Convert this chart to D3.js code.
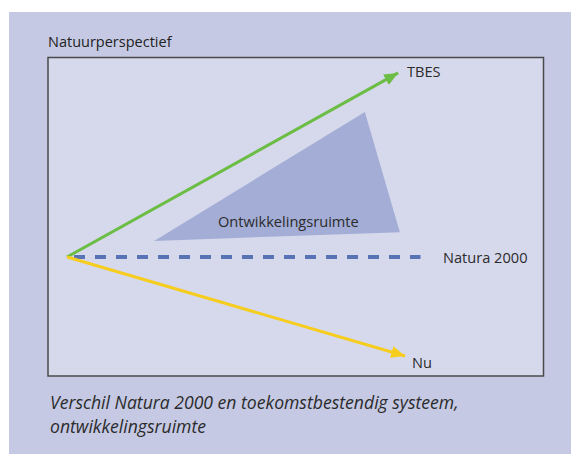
<!DOCTYPE html>
<html>
<head>
  <style>
    body { margin: 0; background: #fff; }
    .lbl { font-family: "Open Sans", sans-serif; font-size: 14.6px; fill: #2b2b2b; }
  </style>
</head>
<body>
  <svg id="chart"></svg>
  <script src="https://d3js.org/d3.v7.min.js"></script>
  <script>
    // Diagram values (abstract units, origin = common start point)
    const arrowNames = ["TBES", "Nu"];
    const arrowEndX = [9.46, 9.66];
    const arrowEndY = [5.26, -2.83];
    const arrowColors = ["#6cbd45", "#f6cd1e"];
    const refName = "Natura 2000";
    const refEnd = [10.1, 0];
    const zoneName = "Ontwikkelingsruimte";
    const zoneX = [2.49, 8.51, 9.51];
    const zoneY = [0.46, 4.14, 0.71];

    const width = 571, height = 454;
    const svg = d3.select("#chart").attr("width", width).attr("height", height);

    const x = d3.scaleLinear().domain([0, 10]).range([67, 417]);
    const y = d3.scaleLinear().domain([0, 5]).range([257, 82]);

    // panels
    svg.append("rect").attr("x", 9).attr("y", 12).attr("width", width - 9).attr("height", height - 12)
      .attr("fill", "#c5c9e3");
    svg.append("rect").attr("x", 48).attr("y", 57.5).attr("width", 495.5).attr("height", 318.5)
      .attr("fill", "#d6d9ec").attr("stroke", "#4a4a4a").attr("stroke-width", 1.5);

    svg.append("text").attr("class", "lbl").attr("x", 48).attr("y", 47)
      .style("font-size", "14.5px").style("font-weight", 500).style("fill", "#222").text("Natuurperspectief");

    // development zone
    svg.append("polygon")
      .attr("points", zoneX.map((d, i) => [x(d), y(zoneY[i])].join(",")).join(" "))
      .attr("fill", "#a3add6");
    svg.append("text").attr("class", "lbl").attr("x", 218).attr("y", 227).text(zoneName);

    // reference dashed line
    svg.append("line")
      .attr("x1", x(0)).attr("y1", y(0)).attr("x2", x(refEnd[0])).attr("y2", y(refEnd[1]))
      .attr("stroke", "#5872b6").attr("stroke-width", 4).attr("stroke-dasharray", "11,10")
      .attr("stroke-dashoffset", -7);
    svg.append("text").attr("class", "lbl").attr("x", 443).attr("y", 263).text(refName);

    // arrows
    const defs = svg.append("defs");
    arrowNames.forEach((name, i) => {
      defs.append("marker").attr("id", "head" + i)
        .attr("markerUnits", "userSpaceOnUse")
        .attr("viewBox", "0 0 14 12").attr("refX", 14).attr("refY", 6)
        .attr("markerWidth", 14).attr("markerHeight", 12).attr("orient", "auto")
        .append("path").attr("d", "M0,0 L14,6 L0,12 Z").attr("fill", arrowColors[i]);

      svg.append("line")
        .attr("x1", x(0)).attr("y1", y(0))
        .attr("x2", x(arrowEndX[i])).attr("y2", y(arrowEndY[i]))
        .attr("stroke", arrowColors[i]).attr("stroke-width", 3)
        .attr("marker-end", `url(#head${i})`);
    });
    svg.append("text").attr("class", "lbl").attr("x", 407).attr("y", 77).text(arrowNames[0]);
    svg.append("text").attr("class", "lbl").attr("x", 412).attr("y", 368).text(arrowNames[1]);

    // caption
    const cap = svg.append("text").attr("class", "lbl")
      .style("font-style", "italic").style("font-size", "17.6px");
    cap.append("tspan").attr("x", 50).attr("y", 409).text("Verschil Natura 2000 en toekomstbestendig systeem,");
    cap.append("tspan").attr("x", 50).attr("y", 433).text("ontwikkelingsruimte");
  </script>
</body>
</html>
